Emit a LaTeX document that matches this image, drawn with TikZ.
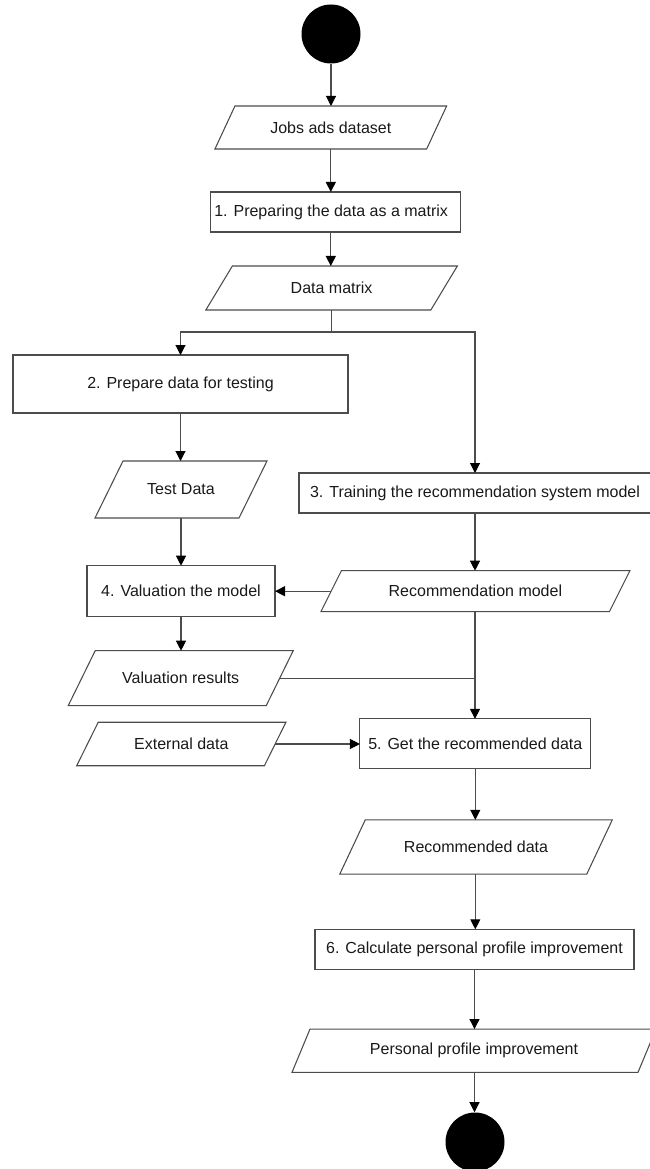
\documentclass[tikz,border=0pt]{standalone}
\usepackage{fontspec}
\setmainfont{Liberation Sans}
\usetikzlibrary{arrows.meta,calc}

% Parallelogram outline around a (borderless) data node.
% #1: node name, #2: horizontal slant of the sides (in picture units)
\newcommand{\ioshape}[2]{%
  \draw[outline] ($(#1.south west)+(-#2/2,0)$) -- ($(#1.north west)+(#2/2,0)$)
    -- ($(#1.north east)+(#2/2,0)$) -- ($(#1.south east)+(-#2/2,0)$) -- cycle;}

\begin{document}
\begin{tikzpicture}[x=0.75pt, y=-0.75pt,
  every node/.style={font=\fontsize{12}{14}\selectfont, text=black!90},
  outline/.style={draw=black!70, line width=0.8pt},
  proc/.style n args={2}{rectangle, outline, minimum width=#1*0.75pt,
    minimum height=#2*0.75pt, inner sep=0pt, outer sep=0pt},
  data/.style n args={2}{rectangle, minimum width=#1*0.75pt,
    minimum height=#2*0.75pt, inner sep=0pt, outer sep=0pt},
  flow/.style={draw=black!70, line width=0.8pt},
  arr/.style={flow, -{Triangle[length=7.5pt, width=7.5pt, color=black]}},
  terminal/.style={circle, fill=black, minimum size=44.25pt, inner sep=0pt}]

\useasboundingbox (0,0) rectangle (649,1169);

% nodes
\node[terminal] (start) at (331,34) {};
\node[data={211.7}{43}] (jobs) at (330.8,127.5) {Jobs ads dataset};
\node[proc={250.3}{40}] (prep) at (335.8,212) {\hspace*{-7pt}1. Preparing the data as a matrix};
\node[data={225}{44}] (matrix) at (331.6,288) {Data matrix};
\node[proc={335}{58}] (testprep) at (180.5,384) {2. Prepare data for testing};
\node[data={144}{57}] (test) at (181,489.5) {Test Data};
\node[proc={352}{40}] (train) at (475,493) {3. Training the recommendation system model};
\node[data={288.5}{41}] (model) at (475.4,591.2) {Recommendation model};
\node[proc={188}{51}] (valuate) at (181,591.2) {4. Valuation the model};
\node[data={198}{55}] (results) at (180.7,678.2) {Valuation results};
\node[data={187.7}{43.5}] (external) at (181.3,744) {External data};
\node[proc={230.7}{49.3}] (getrec) at (475.3,743.5) {5. Get the recommended data};
\node[data={247}{54.3}] (recdata) at (476,847) {Recommended data};
\node[proc={319}{40}] (calc) at (474.5,949.3) {6. Calculate personal profile improvement};
\node[data={346}{43.3}] (profile) at (474,1050.7) {Personal profile improvement};
\node[terminal] (stop) at (475,1142) {};

% parallelogram outlines of the data nodes
\ioshape{jobs}{20}
\ioshape{matrix}{26.5}
\ioshape{test}{28}
\ioshape{model}{20.5}
\ioshape{results}{27}
\ioshape{external}{21.5}
\ioshape{recdata}{25.5}
\ioshape{profile}{18}

% connectors
\coordinate (split) at (331.6,332);
\draw[arr] (start.south) -- (start.south |- jobs.north);
\draw[arr] (jobs.south) -- (jobs.south |- prep.north);
\draw[arr] (jobs.south |- prep.south) -- (jobs.south |- matrix.north);
\draw[flow] (matrix.south) -- (split);
\draw[arr] (split) -| (testprep.north);
\draw[arr] (split) -| (train.north);
\draw[arr] (testprep.south) -- (testprep.south |- test.north);
\draw[arr] (test.south) -- (test.south |- valuate.north);
\draw[arr] (train.south) -- (train.south |- model.north);
\draw[arr] (model.west) -- (model.west -| valuate.east);
\draw[arr] (valuate.south) -- (valuate.south |- results.north);
\draw[arr] (train.south |- model.south) -- (train.south |- getrec.north);
\draw[flow] (results.east) -- (results.east -| train.south);
\draw[arr] (external.east) -- (external.east -| getrec.west);
\draw[arr] (getrec.south) -- (getrec.south |- recdata.north);
\draw[arr] (getrec.south |- recdata.south) -- (getrec.south |- calc.north);
\draw[arr] (calc.south) -- (calc.south |- profile.north);
\draw[arr] (calc.south |- profile.south) -- (calc.south |- stop.north);
\end{tikzpicture}
\end{document}
